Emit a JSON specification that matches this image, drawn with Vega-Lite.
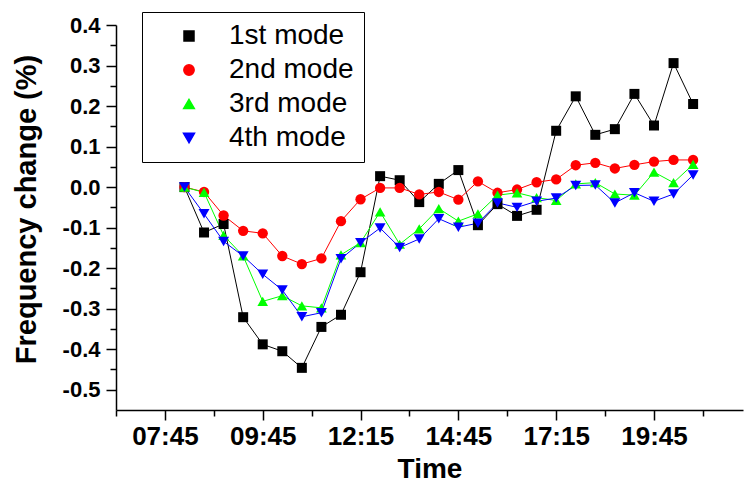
{
  "$schema": "https://vega.github.io/schema/vega-lite/v6.json",
  "width": 627,
  "height": 385,
  "autosize": {"type": "none"},
  "padding": {"left": 116, "top": 25, "right": 1, "bottom": 76},
  "background": "white",
  "config": {
    "view": {"stroke": null},
    "axis": {
      "grid": false,
      "domainColor": "black",
      "domainWidth": 1.5,
      "tickColor": "black",
      "tickWidth": 1.5,
      "labelColor": "black",
      "titleColor": "black",
      "labelFont": "Liberation Sans",
      "titleFont": "Liberation Sans",
      "labelFontWeight": "bold",
      "titleFontWeight": "bold"
    }
  },
  "data": {
    "values": [
      {"t": 1, "m": "1st mode", "v": 0},
      {"t": 2, "m": "1st mode", "v": -0.112},
      {"t": 3, "m": "1st mode", "v": -0.091},
      {"t": 4, "m": "1st mode", "v": -0.321},
      {"t": 5, "m": "1st mode", "v": -0.388},
      {"t": 6, "m": "1st mode", "v": -0.405},
      {"t": 7, "m": "1st mode", "v": -0.446},
      {"t": 8, "m": "1st mode", "v": -0.345},
      {"t": 9, "m": "1st mode", "v": -0.315},
      {"t": 10, "m": "1st mode", "v": -0.21},
      {"t": 11, "m": "1st mode", "v": 0.027},
      {"t": 12, "m": "1st mode", "v": 0.017},
      {"t": 13, "m": "1st mode", "v": -0.037},
      {"t": 14, "m": "1st mode", "v": 0.008},
      {"t": 15, "m": "1st mode", "v": 0.042},
      {"t": 16, "m": "1st mode", "v": -0.094},
      {"t": 17, "m": "1st mode", "v": -0.042},
      {"t": 18, "m": "1st mode", "v": -0.071},
      {"t": 19, "m": "1st mode", "v": -0.056},
      {"t": 20, "m": "1st mode", "v": 0.139},
      {"t": 21, "m": "1st mode", "v": 0.224},
      {"t": 22, "m": "1st mode", "v": 0.129},
      {"t": 23, "m": "1st mode", "v": 0.143},
      {"t": 24, "m": "1st mode", "v": 0.23},
      {"t": 25, "m": "1st mode", "v": 0.152},
      {"t": 26, "m": "1st mode", "v": 0.306},
      {"t": 27, "m": "1st mode", "v": 0.205},
      {"t": 1, "m": "2nd mode", "v": 0},
      {"t": 2, "m": "2nd mode", "v": -0.012},
      {"t": 3, "m": "2nd mode", "v": -0.07},
      {"t": 4, "m": "2nd mode", "v": -0.108},
      {"t": 5, "m": "2nd mode", "v": -0.114},
      {"t": 6, "m": "2nd mode", "v": -0.17},
      {"t": 7, "m": "2nd mode", "v": -0.19},
      {"t": 8, "m": "2nd mode", "v": -0.176},
      {"t": 9, "m": "2nd mode", "v": -0.084},
      {"t": 10, "m": "2nd mode", "v": -0.03},
      {"t": 11, "m": "2nd mode", "v": -0.002},
      {"t": 12, "m": "2nd mode", "v": -0.002},
      {"t": 13, "m": "2nd mode", "v": -0.018},
      {"t": 14, "m": "2nd mode", "v": -0.012},
      {"t": 15, "m": "2nd mode", "v": -0.031},
      {"t": 16, "m": "2nd mode", "v": 0.014},
      {"t": 17, "m": "2nd mode", "v": -0.014},
      {"t": 18, "m": "2nd mode", "v": -0.006},
      {"t": 19, "m": "2nd mode", "v": 0.012},
      {"t": 20, "m": "2nd mode", "v": 0.019},
      {"t": 21, "m": "2nd mode", "v": 0.054},
      {"t": 22, "m": "2nd mode", "v": 0.06},
      {"t": 23, "m": "2nd mode", "v": 0.046},
      {"t": 24, "m": "2nd mode", "v": 0.055},
      {"t": 25, "m": "2nd mode", "v": 0.063},
      {"t": 26, "m": "2nd mode", "v": 0.067},
      {"t": 27, "m": "2nd mode", "v": 0.067},
      {"t": 1, "m": "3rd mode", "v": 0},
      {"t": 2, "m": "3rd mode", "v": -0.013},
      {"t": 3, "m": "3rd mode", "v": -0.119},
      {"t": 4, "m": "3rd mode", "v": -0.17},
      {"t": 5, "m": "3rd mode", "v": -0.282},
      {"t": 6, "m": "3rd mode", "v": -0.268},
      {"t": 7, "m": "3rd mode", "v": -0.293},
      {"t": 8, "m": "3rd mode", "v": -0.298},
      {"t": 9, "m": "3rd mode", "v": -0.167},
      {"t": 10, "m": "3rd mode", "v": -0.137},
      {"t": 11, "m": "3rd mode", "v": -0.061},
      {"t": 12, "m": "3rd mode", "v": -0.141},
      {"t": 13, "m": "3rd mode", "v": -0.103},
      {"t": 14, "m": "3rd mode", "v": -0.053},
      {"t": 15, "m": "3rd mode", "v": -0.084},
      {"t": 16, "m": "3rd mode", "v": -0.066},
      {"t": 17, "m": "3rd mode", "v": -0.02},
      {"t": 18, "m": "3rd mode", "v": -0.014},
      {"t": 19, "m": "3rd mode", "v": -0.026},
      {"t": 20, "m": "3rd mode", "v": -0.033},
      {"t": 21, "m": "3rd mode", "v": 0.008},
      {"t": 22, "m": "3rd mode", "v": 0.011},
      {"t": 23, "m": "3rd mode", "v": -0.017},
      {"t": 24, "m": "3rd mode", "v": -0.02},
      {"t": 25, "m": "3rd mode", "v": 0.037},
      {"t": 26, "m": "3rd mode", "v": 0.011},
      {"t": 27, "m": "3rd mode", "v": 0.056},
      {"t": 1, "m": "4th mode", "v": 0},
      {"t": 2, "m": "4th mode", "v": -0.066},
      {"t": 3, "m": "4th mode", "v": -0.134},
      {"t": 4, "m": "4th mode", "v": -0.17},
      {"t": 5, "m": "4th mode", "v": -0.215},
      {"t": 6, "m": "4th mode", "v": -0.254},
      {"t": 7, "m": "4th mode", "v": -0.32},
      {"t": 8, "m": "4th mode", "v": -0.31},
      {"t": 9, "m": "4th mode", "v": -0.177},
      {"t": 10, "m": "4th mode", "v": -0.137},
      {"t": 11, "m": "4th mode", "v": -0.101},
      {"t": 12, "m": "4th mode", "v": -0.149},
      {"t": 13, "m": "4th mode", "v": -0.128},
      {"t": 14, "m": "4th mode", "v": -0.078},
      {"t": 15, "m": "4th mode", "v": -0.099},
      {"t": 16, "m": "4th mode", "v": -0.089},
      {"t": 17, "m": "4th mode", "v": -0.039},
      {"t": 18, "m": "4th mode", "v": -0.05},
      {"t": 19, "m": "4th mode", "v": -0.035},
      {"t": 20, "m": "4th mode", "v": -0.027},
      {"t": 21, "m": "4th mode", "v": 0.004},
      {"t": 22, "m": "4th mode", "v": 0.005},
      {"t": 23, "m": "4th mode", "v": -0.039},
      {"t": 24, "m": "4th mode", "v": -0.014},
      {"t": 25, "m": "4th mode", "v": -0.035},
      {"t": 26, "m": "4th mode", "v": -0.017},
      {"t": 27, "m": "4th mode", "v": 0.03}
    ]
  },
  "layer": [
    {
      "mark": {"type": "line", "strokeWidth": 1},
      "encoding": {
        "x": {
          "field": "t",
          "type": "quantitative",
          "scale": {"domain": [-2.5, 29.55], "nice": false, "zero": false},
          "axis": {
            "orient": "bottom",
            "values": [0, 5, 10, 15, 20, 25],
            "labelExpr": "datum.value == 0 ? '07:45' : datum.value == 5 ? '09:45' : datum.value == 10 ? '12:15' : datum.value == 15 ? '14:45' : datum.value == 20 ? '17:15' : '19:45'",
            "tickSize": 10,
            "labelFontSize": 26,
            "labelPadding": 3,
            "labelDx": -8,
            "labelFlush": false,
            "labelOverlap": false,
            "title": "Time",
            "titleFontSize": 28,
            "titleBaseline": "alphabetic",
            "titleY": 67
          }
        },
        "y": {
          "field": "v",
          "type": "quantitative",
          "scale": {"domain": [-0.55, 0.4], "nice": false, "zero": false},
          "axis": {
            "orient": "left",
            "values": [-0.5, -0.4, -0.3, -0.2, -0.1, 0, 0.1, 0.2, 0.3, 0.4],
            "labelExpr": "replace(format(datum.value, '.1f'), '\u2212', '-')",
            "tickSize": 10,
            "labelFontSize": 22,
            "labelPadding": 6,
            "labelDy": 2,
            "labelFlush": false,
            "labelOverlap": false,
            "title": "Frequency change (%)",
            "titleFontSize": 29,
            "titleBaseline": "alphabetic",
            "titleX": -81,
            "titleY": 184
          }
        },
        "color": {
          "field": "m",
          "type": "nominal",
          "scale": {"domain": ["1st mode", "2nd mode", "3rd mode", "4th mode"], "range": ["#000000", "#ff0000", "#00ff00", "#0000ff"]}
        }
      }
    },
    {
      "mark": {"type": "point", "filled": true, "opacity": 1},
      "encoding": {
        "x": {
          "field": "t",
          "type": "quantitative",
          "axis": {
            "orient": "bottom",
            "values": [-2.5, 2.5, 7.5, 12.5, 17.5, 22.5, 27.5],
            "labels": false,
            "domain": false,
            "tickSize": 6,
            "title": null
          }
        },
        "y": {
          "field": "v",
          "type": "quantitative",
          "axis": {
            "orient": "left",
            "values": [-0.45, -0.35, -0.25, -0.15, -0.05, 0.05, 0.15, 0.25, 0.35],
            "labels": false,
            "domain": false,
            "tickSize": 6,
            "title": null
          }
        },
        "color": {
          "field": "m",
          "type": "nominal",
          "legend": {
            "title": null,
            "orient": "none",
            "legendX": 26,
            "legendY": -13,
            "padding": 10,
            "fillColor": "white",
            "strokeColor": "black",
            "labelFont": "Liberation Sans",
            "labelFontSize": 28,
            "labelColor": "black",
            "symbolSize": 100,
            "symbolOffset": 23,
            "labelOffset": 26,
            "rowPadding": 6
          }
        },
        "shape": {
          "field": "m",
          "type": "nominal",
          "scale": {"domain": ["1st mode", "2nd mode", "3rd mode", "4th mode"], "range": ["square", "circle", "triangle-up", "triangle-down"]},
          "legend": null
        },
        "size": {
          "field": "m",
          "type": "nominal",
          "scale": {"domain": ["1st mode", "2nd mode", "3rd mode", "4th mode"], "range": [100, 120, 200, 200]},
          "legend": null
        }
      }
    }
  ],
  "resolve": {"axis": {"x": "independent", "y": "independent"}}
}
